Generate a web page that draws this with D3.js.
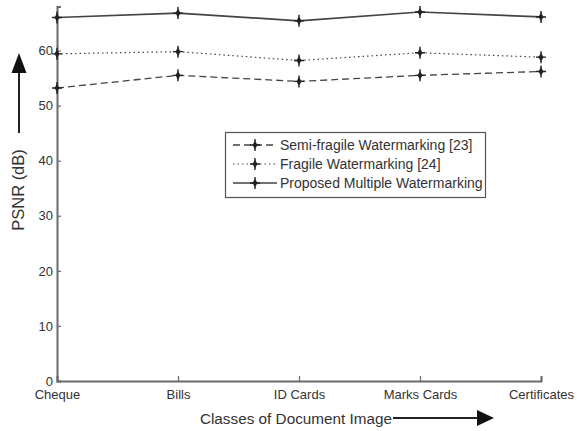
<!DOCTYPE html>
<html><head><meta charset="utf-8">
<script src="https://cdn.jsdelivr.net/npm/d3@7"></script>
<style>body{margin:0;background:#fff}svg{display:block}text{font-family:"Liberation Sans",Arial,sans-serif}</style>
</head><body><svg id="c" width="578" height="431"></svg>
<script>
const categories = ["Cheque","Bills","ID Cards","Marks Cards","Certificates"];
const semiFragile = [53.2, 55.5, 54.4, 55.5, 56.2];
const fragile = [59.4, 59.8, 58.2, 59.6, 58.8];
const proposed = [66.0, 66.8, 65.4, 67.0, 66.1];
const yTicks = [0,10,20,30,40,50,60];
const seriesNames = ["Semi-fragile Watermarking [23]","Fragile Watermarking [24]","Proposed Multiple Watermarking"];

const svg = d3.select("#c");
const x = d3.scalePoint().domain(categories).range([57, 541]);
const y = d3.scaleLinear().domain([0, 68]).range([381, 6.5]);
const axisCol = "#6a6a6a", lineCol = "#444";

// y axis
const ya = svg.append("g").attr("transform","translate(57,0)")
  .call(d3.axisLeft(y).tickValues(yTicks).tickSize(-4).tickPadding(8));
ya.select(".domain").attr("stroke",axisCol).attr("stroke-width",2);
ya.selectAll(".tick line").attr("stroke",axisCol).attr("stroke-width",1.2);
ya.selectAll(".tick text").attr("font-size",13).attr("fill","#333").attr("dy","0.32em").attr("x",-4);

// x axis
const xa = svg.append("g").attr("transform","translate(0,381)")
  .call(d3.axisBottom(x).tickSize(-5).tickPadding(6));
xa.select(".domain").attr("stroke",axisCol).attr("stroke-width",2);
xa.selectAll(".tick line").attr("stroke",axisCol).attr("stroke-width",1.2);
xa.selectAll(".tick text").attr("font-size",13).attr("fill","#333").attr("y",9);

// series
const series = [
  {vals: semiFragile, dash:"7,4", w:1.3},
  {vals: fragile, dash:"1.5,3", w:1.2},
  {vals: proposed, dash:null, w:1.7}
];
const line = d3.line().x((d,i)=>x(categories[i])).y(d=>y(d));
function marker(g, cx, cy){
  g.append("path").attr("d",`M${cx-5},${cy}H${cx+5}M${cx},${cy-6}V${cy+6}`).attr("stroke","#222").attr("stroke-width",1.4);
  g.append("path").attr("d",d3.symbol(d3.symbolDiamond, 22)()).attr("transform",`translate(${cx},${cy})`).attr("fill","#222");
}
series.forEach(s=>{
  svg.append("path").datum(s.vals).attr("d",line).attr("fill","none")
    .attr("stroke",lineCol).attr("stroke-width",s.w).attr("stroke-dasharray",s.dash);
  const g = svg.append("g");
  s.vals.forEach((v,i)=>marker(g, x(categories[i]), y(v)));
});

// legend
const lg = svg.append("g");
lg.append("rect").attr("x",225.5).attr("y",132.5).attr("width",260).attr("height",65)
  .attr("fill","#fff").attr("stroke","#555").attr("stroke-width",1.2);
const rowsY = [145,164,183];
series.forEach((s,i)=>{
  lg.append("line").attr("x1",233).attr("x2",277).attr("y1",rowsY[i]).attr("y2",rowsY[i])
    .attr("stroke",lineCol).attr("stroke-width",s.w).attr("stroke-dasharray",s.dash);
  marker(lg,255,rowsY[i]);
  lg.append("text").attr("x",280).attr("y",rowsY[i]).attr("dy","0.36em")
    .attr("font-size",14).attr("fill","#333").text(seriesNames[i]);
});

// axis titles
svg.append("text").attr("transform","translate(24,190) rotate(-90)").attr("text-anchor","middle")
  .attr("font-size",16.5).attr("fill","#333").text("PSNR (dB)");
svg.append("text").attr("x",296).attr("y",424).attr("text-anchor","middle")
  .attr("font-size",15.3).attr("fill","#333").text("Classes of Document Image");

// arrows
svg.append("line").attr("x1",19).attr("x2",19).attr("y1",133).attr("y2",70).attr("stroke","#222").attr("stroke-width",2);
svg.append("path").attr("d","M19,53L26.5,73L11.5,73Z").attr("fill","#111");
svg.append("line").attr("x1",393).attr("x2",480).attr("y1",418).attr("y2",418).attr("stroke","#222").attr("stroke-width",2);
svg.append("path").attr("d","M494,418L477,410L477,426Z").attr("fill","#111");
</script></body></html>
